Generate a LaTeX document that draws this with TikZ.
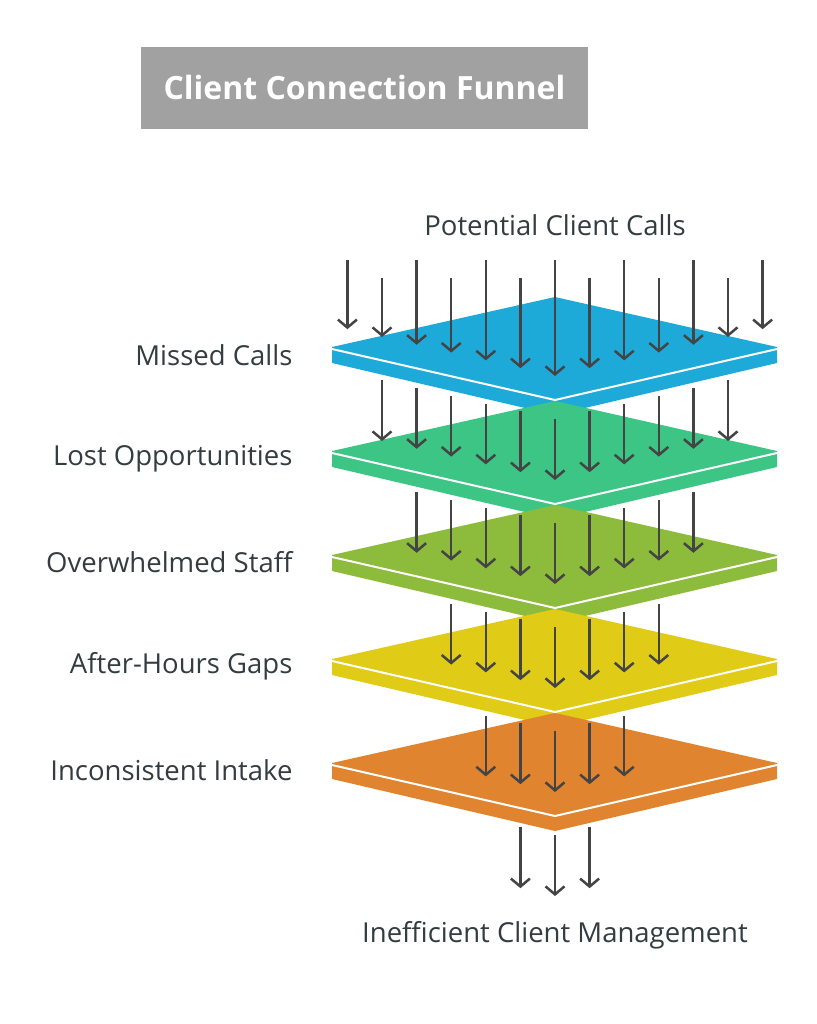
\documentclass[tikz,border=0pt]{standalone}
\usepackage{fontspec}
\setmainfont{Open Sans}
\usetikzlibrary{arrows.meta}
\definecolor{arr}{HTML}{444444}
\definecolor{lab}{HTML}{333C40}
\definecolor{cA}{HTML}{1EAAD9}
\definecolor{cB}{HTML}{3CC584}
\definecolor{cC}{HTML}{8DBB3C}
\definecolor{cD}{HTML}{E0CB16}
\definecolor{cE}{HTML}{E08430}
\begin{document}
\begin{tikzpicture}[x=1pt,y=-1pt,
  flow/.style={draw=arr,line width=2.5pt,-{Straight Barb[length=8pt,width=19pt,line width=2.5pt]}},
  lbl/.style={font=\fontsize{27.5}{32}\selectfont,text=lab},
  side/.style={anchor=east,lbl}]
\useasboundingbox (0,0) rectangle (816,1024);
\node[fill=black!37,minimum width=447pt,minimum height=82pt,text=white,font=\fontsize{32}{36}\selectfont\bfseries] (title) at (364.5,88) {Client Connection Funnel};
\foreach \i/\c in {0/cA,1/cB,2/cC,3/cD,4/cE}{
  \pgfmathsetmacro\T{297+104*\i}
  \fill[\c] (332,\T+50) -- (555,\T) -- (777,\T+50) -- (777,\T+66) -- (555,\T+118) -- (332,\T+66) -- cycle;
  \draw[white,line width=2pt] (332,\T+52) -- (555,\T+103) -- (777,\T+52);
}
\foreach \k in {-6,...,6}{
  \pgfmathsetmacro\x{555+34.6*\k}
  \pgfmathsetmacro\tip{376-7.8*abs(\k)}
  \pgfmathsetmacro\st{isodd(\k)?278:260}
  \draw[flow] (\x,\st) -- (\x,\tip);
}
\foreach \i/\n in {1/5,2/4,3/3,4/2,5/1}{
  \foreach \k in {-\n,...,\n}{
    \pgfmathsetmacro\x{555+34.6*\k}
    \pgfmathsetmacro\tip{376-7.8*abs(\k)+104*\i}
    \pgfmathsetmacro\st{297+104*(\i-1)+122-7.75*abs(\k)}
    \draw[flow] (\x,\st) -- (\x,\tip);
  }
}
\node[lbl] (top) at (555,225) {Potential Client Calls};
\node[lbl] (bot) at (555,935) {Inefficient Client Management};
\node[side] (l1) at (296,355) {Missed Calls};
\node[side] (l2) at (296,459) {Lost Opportunities};
\node[side] (l3) at (296,562) {Overwhelmed Staff};
\node[side] (l4) at (296,666) {After-Hours Gaps};
\node[side] (l5) at (296,770) {Inconsistent Intake};
\end{tikzpicture}
\end{document}
